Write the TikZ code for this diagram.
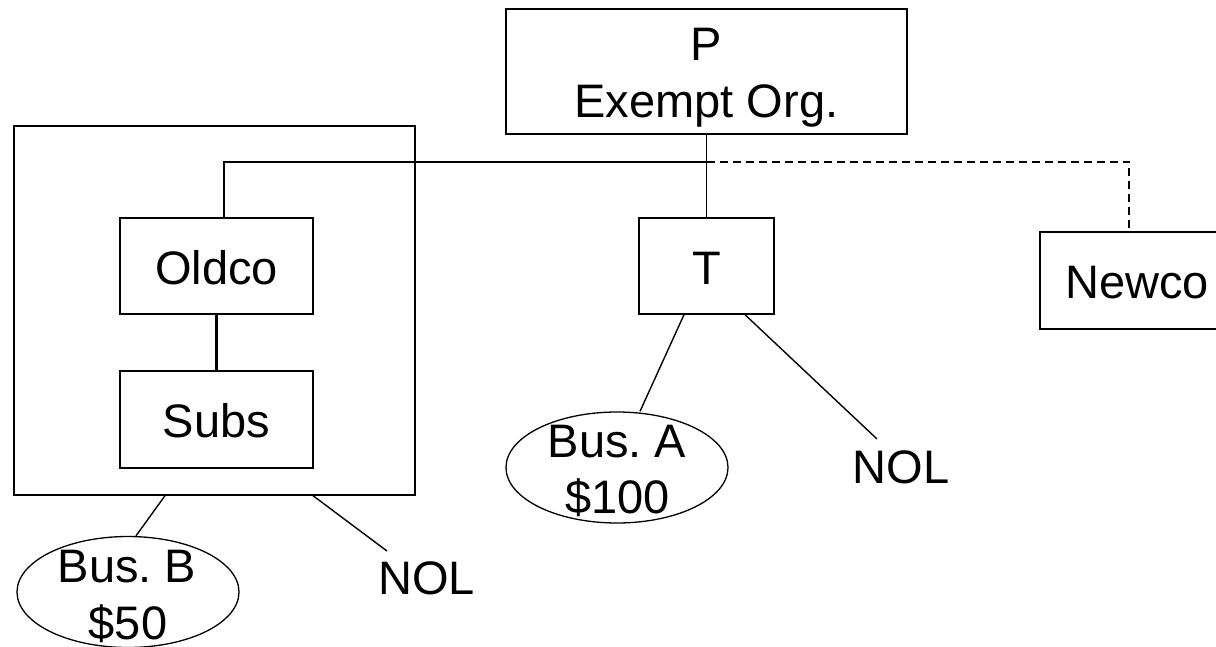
\documentclass[tikz,border=0pt]{standalone}
\usepackage{fontspec}
\setmainfont{Liberation Sans}
\usetikzlibrary{shapes.geometric}
\begin{document}
\begin{tikzpicture}[x=1pt,y=-1pt,
  box/.style={draw, line width=1.4pt, rectangle, inner sep=0pt, text height=36pt, text depth=0pt, font=\fontsize{47pt}{57pt}\selectfont},
  oval/.style={draw, line width=1.3pt, ellipse, inner sep=0pt, minimum width=222pt, minimum height=111pt},
  lbl/.style={anchor=base, inner sep=0pt, font=\fontsize{47pt}{57pt}\selectfont},
  conn/.style={line width=1.4pt},
  thickconn/.style={line width=2.8pt},
  dashconn/.style={line width=1.4pt, dash pattern=on 8pt off 5pt}]
\path[use as bounding box] (0,0) rectangle (1216,647);
\clip (0,0) rectangle (1216,647);

% group box
\node[box, minimum width=401pt, minimum height=369pt] (grp) at (214.5,310.5) {};
% P
\node[box, minimum width=401pt, minimum height=125pt] (P) at (706.5,71.5) {};
\node[lbl] (Pa) at (706.5,61) {P};
\node[lbl] (Pb) at (706.5,118) {Exempt Org.};
% boxes
\node[box, minimum width=193pt, minimum height=96pt] (Oldco) at (216.5,266) {Oldco};
\node[box, minimum width=193pt, minimum height=97pt] (Subs) at (216.5,419.5) {Subs};
\node[box, minimum width=135pt, minimum height=96pt] (T) at (706.5,266) {T};
\node[box, minimum width=194pt, minimum height=97pt] (Newco) at (1137,280.5) {Newco};
% ellipses
\node[oval] (busB) at (128,592) {};
\node[lbl] (busBa) at (127,582) {Bus.\ B};
\node[lbl] (busBb) at (128,639) {\$50};
\node[oval] (busA) at (617,467.5) {};
\node[lbl] (busAa) at (617,457) {Bus.\ A};
\node[lbl] (busAb) at (617.5,513) {\$100};
% NOL labels
\node[lbl] (nolB) at (426.5,594) {NOL};
\node[lbl] (nolA) at (901,483) {NOL};

% connectors
\coordinate (j) at (706.5,162);
\coordinate (nolBend) at (387,551);
\coordinate (nolAend) at (877,439);
\draw[conn] (P.south) -- (T.north);
\draw[thickconn] (j) -| ([xshift=7.5pt]Oldco.north);
\draw[dashconn] (j) -| ([xshift=-8pt]Newco.north);
\draw[thickconn] (Oldco.south) -- (Subs.north);
\draw[conn] ([xshift=-49.5pt]grp.south) -- ([xshift=8pt]busB.north);
\draw[conn] ([xshift=98.5pt]grp.south) -- (nolBend);
\draw[conn] ([xshift=-22.5pt]T.south) -- ([xshift=23pt]busA.north);
\draw[conn] ([xshift=38.5pt]T.south) -- (nolAend);
\end{tikzpicture}
\end{document}
